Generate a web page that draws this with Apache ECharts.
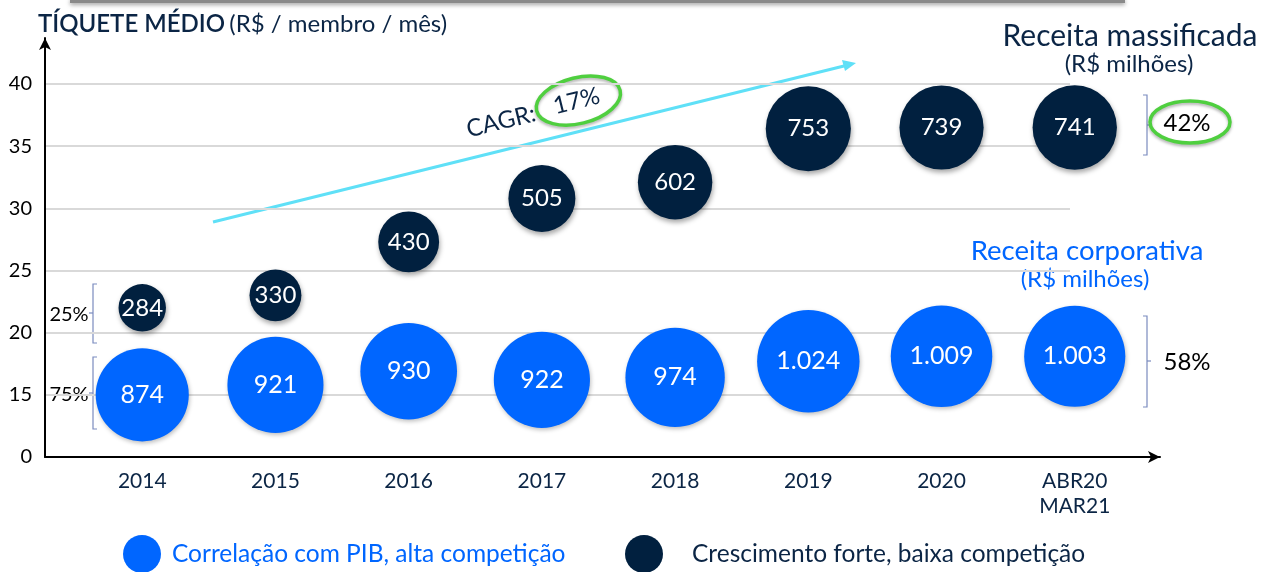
<!DOCTYPE html>
<html>
<head>
<meta charset="utf-8">
<script src="https://cdn.jsdelivr.net/npm/echarts@6/dist/echarts.min.js"></script>
<style>
  html, body { margin: 0; padding: 0; background: #fff; }
  #chart { width: 1271px; height: 572px; }
</style>
</head>
<body>
<div id="chart"></div>
<script>
var categories = ["2014", "2015", "2016", "2017", "2018", "2019", "2020", "ABR20\nMAR21"];
// tíquete médio (eixo y) e receita (tamanho da bolha)
var corpTicket = [15.0, 15.8, 16.9, 16.2, 16.4, 17.7, 18.1, 18.1];
var corpRevenue = [874, 921, 930, 922, 974, 1024, 1009, 1003];
var massTicket = [22.0, 23.0, 27.3, 30.8, 32.1, 36.4, 36.5, 36.5];
var massRevenue = [284, 330, 430, 505, 602, 753, 739, 741];
var yTicks = [10, 15, 20, 25, 30, 35, 40]; // 10 é mostrado como "0" (eixo quebrado)
var shareLabels = { mass: "25%", corp: "75%", massNow: "42%", corpNow: "58%" };
var cagrText = "17%";

var BLUE = "#0066ff";
var NAVY = "#01203f";
var TXT = "#0b2545";
var FONT = "Lato";

function fmtBR(v) {
  return String(v).replace(/\B(?=(\d{3})+(?!\d))/g, ".");
}

function toData(ticket, revenue) {
  return ticket.map(function (t, i) {
    return [i, t, revenue[i]];
  });
}

function bubbleSize(d) {
  return 1.6 * Math.pow(d[2], 0.6);
}

var myChart = echarts.init(document.getElementById("chart"));

var bracketColor = "#7b8bbf";
function bracket(x, y1, y2, dir) {
  // dir = 1 -> "]" (stubs para a esquerda, marca do meio para a direita)
  return {
    type: "polyline",
    silent: true,
    shape: { points: [[x - 4 * dir, y1], [x, y1], [x, y2], [x - 4 * dir, y2]] },
    style: { stroke: bracketColor, lineWidth: 1.2, fill: null },
  };
}
function bracketTick(x, y, dir) {
  return {
    type: "line",
    silent: true,
    shape: { x1: x, y1: y, x2: x + 4 * dir, y2: y },
    style: { stroke: bracketColor, lineWidth: 1.2 },
  };
}

var option = {
  animation: false,
  textStyle: { fontFamily: FONT },
  title: {
    left: 33,
    top: 7,
    text: "{a|TÍQUETE MÉDIO} {b|(R$ / membro / mês)}",
    textStyle: {
      rich: {
        a: { fontSize: 24, color: TXT, fontFamily: FONT, fontWeight: 600 },
        b: { fontSize: 24, color: TXT, fontFamily: FONT, fontWeight: "normal" },
      },
    },
  },
  legend: [
    {
      left: 118,
      top: 530,
      icon: "circle",
      itemWidth: 38,
      itemHeight: 40,
      data: [{ name: "Correlação com PIB, alta competição", textStyle: { color: BLUE } }],
      textStyle: { fontSize: 24.5, fontFamily: FONT, padding: [0, 0, 0, 6] },
    },
    {
      left: 620,
      top: 530,
      icon: "circle",
      itemWidth: 38,
      itemHeight: 40,
      data: [{ name: "Crescimento forte, baixa competição", textStyle: { color: TXT } }],
      textStyle: { fontSize: 24.5, fontFamily: FONT, padding: [0, 0, 0, 24] },
    },
  ],
  grid: [
    { left: 45, right: 111, top: 38, bottom: 115 },
    { left: 45, right: 201, top: 84, bottom: 115 },
  ],
  xAxis: [
    {
      gridIndex: 0,
      type: "value",
      min: -0.73,
      max: 7.64,
      splitLine: { show: false },
      axisTick: { show: false },
      axisLine: {
        show: true,
        onZero: false,
        symbol: ["none", "arrow"],
        symbolSize: [9, 12],
        lineStyle: { color: "#000", width: 2 },
      },
      axisLabel: {
        customValues: [0, 1, 2, 3, 4, 5, 6, 7],
        formatter: function (v) {
          return categories[v];
        },
        color: TXT,
        fontSize: 21,
        lineHeight: 25,
        margin: 12,
        fontFamily: FONT,
      },
    },
    { gridIndex: 1, type: "value", show: false, min: 0, max: 1 },
  ],
  yAxis: [
    {
      gridIndex: 0,
      type: "value",
      min: 10,
      max: 43.7,
      splitLine: { show: false },
      axisTick: { show: false },
      axisLine: {
        show: true,
        onZero: false,
        symbol: ["none", "arrow"],
        symbolSize: [9, 12],
        lineStyle: { color: "#000", width: 2 },
      },
      axisLabel: {
        customValues: yTicks,
        formatter: function (v) {
          return v === 10 ? "0" : String(v);
        },
        color: "#000",
        fontSize: 20,
        margin: 13,
        fontFamily: FONT,
      },
    },
    {
      gridIndex: 1,
      type: "value",
      min: 10,
      max: 40,
      interval: 5,
      axisLine: { show: false },
      axisTick: { show: false },
      axisLabel: { show: false },
      splitLine: { show: true, lineStyle: { color: "#d9d9d9", width: 2 } },
    },
  ],
  series: [
    {
      name: "Correlação com PIB, alta competição",
      type: "scatter",
      xAxisIndex: 0,
      yAxisIndex: 0,
      data: toData(corpTicket, corpRevenue),
      symbolSize: bubbleSize,
      itemStyle: {
        color: BLUE,
        opacity: 1,
        shadowBlur: 4,
        shadowOffsetX: 1,
        shadowOffsetY: 2,
        shadowColor: "rgba(0,0,0,0.25)",
      },
      label: {
        show: true,
        position: "inside",
        color: "#fff",
        fontSize: 25,
        fontFamily: FONT,
        formatter: function (p) {
          return fmtBR(p.value[2]);
        },
      },
    },
    {
      name: "Crescimento forte, baixa competição",
      type: "scatter",
      xAxisIndex: 0,
      yAxisIndex: 0,
      data: toData(massTicket, massRevenue),
      symbolSize: bubbleSize,
      itemStyle: {
        color: NAVY,
        opacity: 1,
        shadowBlur: 5,
        shadowOffsetX: 1,
        shadowOffsetY: 3,
        shadowColor: "rgba(0,0,0,0.35)",
      },
      label: {
        show: true,
        position: "inside",
        color: "#fff",
        fontSize: 24,
        fontFamily: FONT,
        formatter: function (p) {
          return fmtBR(p.value[2]);
        },
      },
    },
  ],
  graphic: [
    // barra cinza no topo (borda de caixa do slide)
    {
      type: "rect",
      silent: true,
      shape: { x: 70, y: -2, width: 1055, height: 5 },
      style: { fill: "#8a8a8a", shadowBlur: 4, shadowOffsetY: 2, shadowColor: "rgba(0,0,0,0.35)" },
    },
    // seta CAGR
    {
      type: "line",
      silent: true,
      shape: { x1: 213, y1: 222, x2: 848, y2: 65 },
      style: { stroke: "#5fe0f7", lineWidth: 3 },
    },
    {
      type: "polygon",
      silent: true,
      shape: { points: [[856, 63], [842, 60], [845, 71]] },
      style: { fill: "#5fe0f7" },
    },
    {
      type: "group",
      x: 540,
      y: 112,
      rotation: 0.24,
      silent: true,
      children: [
        {
          type: "text",
          x: -40,
          y: 0,
          style: { text: "CAGR:", font: "24px " + FONT, fill: TXT, textAlign: "center", textVerticalAlign: "middle" },
        },
        {
          type: "text",
          x: 38,
          y: -2,
          style: { text: cagrText, font: "24px " + FONT, fill: TXT, textAlign: "center", textVerticalAlign: "middle" },
        },
        {
          type: "ellipse",
          shape: { cx: 40, cy: -2, rx: 43, ry: 23 },
          style: { fill: null, stroke: "#4fcf3f", lineWidth: 3.5, shadowBlur: 3, shadowOffsetY: 2, shadowColor: "rgba(0,0,0,0.3)" },
        },
      ],
    },
    // textos à direita
    {
      type: "text",
      silent: true,
      x: 1130,
      y: 36,
      style: { text: "Receita massificada", font: "30px " + FONT, fill: TXT, textAlign: "center", textVerticalAlign: "middle" },
    },
    {
      type: "text",
      silent: true,
      x: 1129,
      y: 64,
      style: { text: "(R$ milhões)", font: "24px " + FONT, fill: TXT, textAlign: "center", textVerticalAlign: "middle" },
    },
    {
      type: "text",
      silent: true,
      x: 1087,
      y: 251,
      style: { text: "Receita corporativa", font: "27.5px " + FONT, fill: BLUE, textAlign: "center", textVerticalAlign: "middle" },
    },
    {
      type: "text",
      silent: true,
      x: 1085,
      y: 279,
      style: { text: "(R$ milhões)", font: "24px " + FONT, fill: BLUE, textAlign: "center", textVerticalAlign: "middle" },
    },
    // colchetes e percentuais
    bracket(1147, 95, 155, 1),
    bracketTick(1147, 125, 1),
    bracket(1147, 316, 407, 1),
    bracketTick(1147, 361, 1),
    bracket(93, 284, 343, -1),
    bracketTick(93, 313, -1),
    bracket(93, 357, 429, -1),
    bracketTick(93, 393, -1),
    {
      type: "text",
      silent: true,
      x: 1187,
      y: 123,
      style: { text: shareLabels.massNow, font: "24px " + FONT, fill: "#000", textAlign: "center", textVerticalAlign: "middle" },
    },
    {
      type: "ellipse",
      silent: true,
      shape: { cx: 1190, cy: 122, rx: 40, ry: 21 },
      style: { fill: null, stroke: "#4fcf3f", lineWidth: 3.5, shadowBlur: 3, shadowOffsetY: 2, shadowColor: "rgba(0,0,0,0.3)" },
    },
    {
      type: "text",
      silent: true,
      x: 1187,
      y: 362,
      style: { text: shareLabels.corpNow, font: "24px " + FONT, fill: "#000", textAlign: "center", textVerticalAlign: "middle" },
    },
    {
      type: "text",
      silent: true,
      x: 69,
      y: 315,
      style: { text: shareLabels.mass, font: "20px " + FONT, fill: "#000", textAlign: "center", textVerticalAlign: "middle" },
    },
    {
      type: "text",
      silent: true,
      x: 69,
      y: 395,
      style: { text: shareLabels.corp, font: "20px " + FONT, fill: "#000", textAlign: "center", textVerticalAlign: "middle" },
    },
  ],
};

myChart.setOption(option);
</script>
</body>
</html>
